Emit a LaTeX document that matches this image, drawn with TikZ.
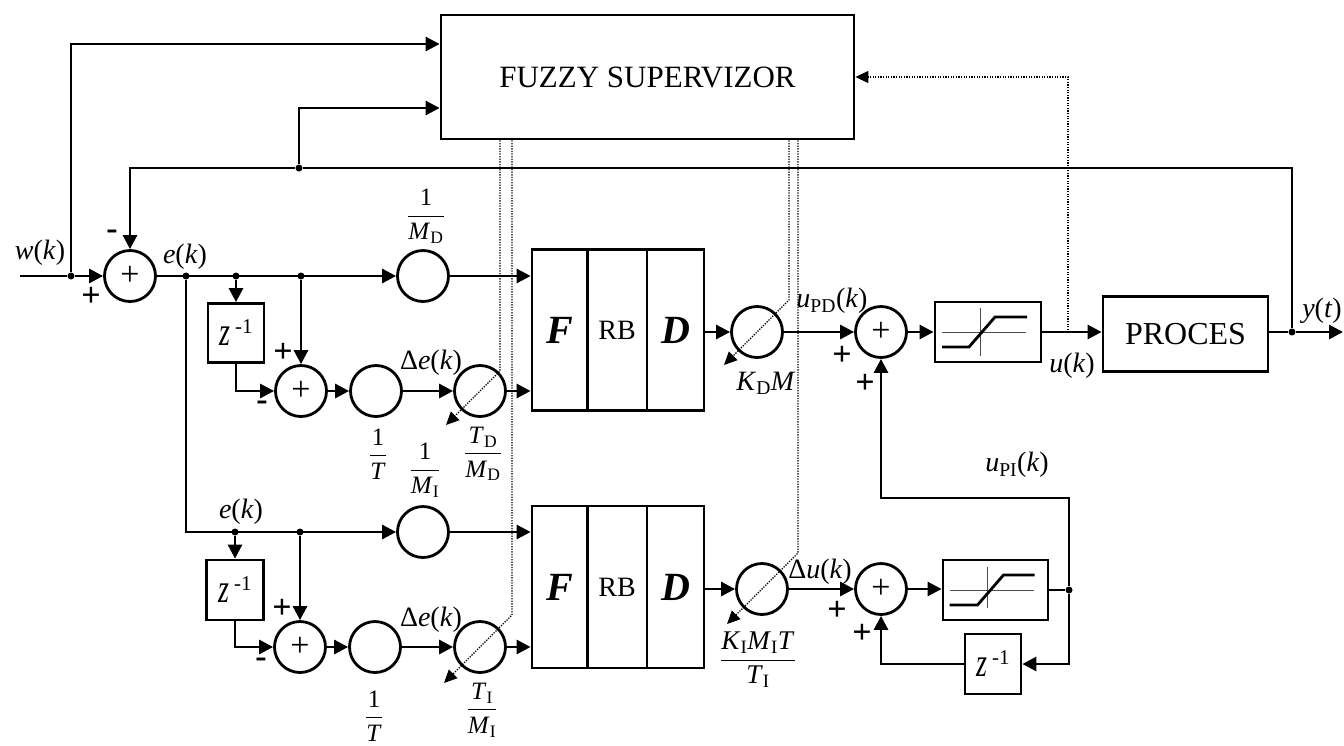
\documentclass[tikz,border=0pt]{standalone}
\usepackage{fontspec}
\setmainfont{Liberation Serif}
\usepackage{amsmath}
\usepackage{graphicx}
\usetikzlibrary{arrows.meta,calc}

\newcommand{\fr}[2]{$\genfrac{}{}{1pt}{0}{\hbox{#1}}{\hbox{#2}}$}
\newcommand{\zinv}{\scalebox{1}[1.45]{\textit{z}}\hspace{5pt}\raisebox{12pt}{\fontsize{21}{21}\selectfont -1}}
\newcommand{\iti}[1]{\textit{#1}}

\tikzset{
  ln/.style={line width=2.8pt},
  arr/.style={ln,-{Triangle[length=14pt,width=14pt]}},
  circ/.style={circle,draw,line width=2.8pt,minimum size=51pt,inner sep=0pt},
  sumc/.style={circ,font=\fontsize{34}{34}\selectfont},
  blk/.style={draw,line width=2.8pt,inner sep=0pt},
  jdot/.style={circle,fill,inner sep=0pt,minimum size=7pt},
  lbl/.style={font=\fontsize{28}{30}\selectfont,inner sep=0pt},
  sgn/.style={font=\fontsize{34}{34}\selectfont\bfseries,inner sep=0pt},
  frc/.style={font=\fontsize{25}{27}\selectfont,inner sep=0pt},
  dotl/.style={line width=1.2pt,dash pattern=on 1.3pt off 1.3pt},
  dotarr/.style={dotl,-{Triangle[length=13pt,width=12pt]}},
  bigl/.style={font=\fontsize{40}{40}\selectfont\bfseries\itshape},
  rbl/.style={font=\fontsize{28}{28}\selectfont},
  satin/.style={line width=0.9pt,gray!60!black},
}

\begin{document}
\begin{tikzpicture}[x=1pt,y=-1pt]
\useasboundingbox (0,0) rectangle (1344,745);

% ---------- Fuzzy supervisor ----------
\node[blk,minimum width=413pt,minimum height=124pt,font=\fontsize{31}{33}\selectfont] (fz) at (647.5,77) {FUZZY SUPERVIZOR};

% ---------- input and first sum ----------
\coordinate (win) at (20,276);
\node[jdot] (jw) at (71,276) {};
\node[sumc] (s1) at (130,276) {+};
\node[lbl] (lw) at (40,253) {\iti{w}(\iti{k})};
\node[sgn] (p1) at (91,297) {+};
\node[sgn] (m1) at (112,235) {-};
\draw[ln] (win) -- (jw);
\draw[arr] (jw) -- (s1);
\draw[arr] (jw) |- (fz.west |- 0,44);

% ---------- feedback ----------
\node[jdot] (jy) at (1292,332) {};
\coordinate (fbr) at (1292,168);
\node[jdot] (jfb) at (299,168) {};
\draw[ln] (jy) -- (fbr) -- (jfb);
\draw[arr] (jfb) -| (s1);
\draw[arr] (jfb) |- (fz.west |- 0,108);

% ---------- upper (PD) branch ----------
\node[lbl] (le1) at (185,257) {\iti{e}(\iti{k})};
\node[jdot] (je1) at (186,276) {};
\node[jdot] (je2) at (236,276) {};
\node[jdot] (je3) at (301,276) {};
\node[circ] (md) at (423,276) {};
\node[frc] (fmd) at (426,216) {\fr{1}{\iti{M}\textsubscript{D}}};
\draw[arr] (s1) -- (md);

\node[blk,minimum width=56pt,minimum height=59pt,font=\fontsize{28}{30}\selectfont] (z1) at (236,333) {\zinv};
\draw[arr] (je2) -- (z1);
\node[sumc] (s2) at (301,391) {+};
\node[sgn] (p2) at (283,353) {+};
\node[sgn] (m2) at (262,406) {-};
\draw[arr] (je3) -- (s2);
\draw[arr] (z1) |- (s2);
\node[circ] (tc1) at (376,391) {};
\node[frc] (ft1) at (378,454) {\fr{1}{\iti{T}}};
\draw[arr] (s2) -- (tc1);
\node[circ] (tdc) at (480,391) {};
\node[lbl] (lde1) at (431,363) {Δ\iti{e}(\iti{k})};
\node[frc] (ftd) at (483,454) {\fr{\iti{T}\textsubscript{D}}{\iti{M}\textsubscript{D}}};
\draw[arr] (tc1) -- (tdc);

\node[blk,minimum width=56pt,minimum height=161pt,bigl] (fa) at (560,330) {F};
\node[blk,minimum width=60pt,minimum height=161pt,rbl] (fb) at (617,330) {RB};
\node[blk,minimum width=57pt,minimum height=161pt,bigl] (fc) at (675.5,330) {D};
\draw[arr] (md) -- (md -| fa.west);
\draw[arr] (tdc) -- (tdc -| fa.west);

\node[circ] (kd) at (757,332) {};
\node[lbl] (lkd) at (766,383) {\iti{K}\textsubscript{D}\iti{M}};
\draw[arr] (fc.east |- kd) -- (kd);
\node[sumc] (s3) at (881,332) {+};
\node[lbl] (lupd) at (832,301) {\iti{u}\textsubscript{PD}(\iti{k})};
\node[sgn] (p3) at (842,356) {+};
\node[sgn] (p4) at (865,384) {+};
\draw[arr] (kd) -- (s3);

\node[blk,minimum width=106pt,minimum height=60pt] (sat1) at (988,332) {};
\begin{scope}[shift={(sat1.center)}]
  \draw[satin] (-46,0) -- (38,0) (-8,-24) -- (-8,24);
  \draw[ln] (-46,15) -- (-19,15) -- (7,-15) -- (39,-15);
\end{scope}
\draw[arr] (s3) -- (sat1);

\node[blk,minimum width=165pt,minimum height=75pt,font=\fontsize{32}{34}\selectfont] (proc) at (1185.5,334) {PROCES};
\node[lbl] (luk) at (1072,366) {\iti{u}(\iti{k})};
\draw[arr] (sat1) -- (sat1 -| proc.west);
\coordinate (yout) at (1343,332);
\draw[ln] (proc.east |- jy) -- (jy);
\draw[arr] (jy) -- (yout);
\node[lbl] (lyt) at (1322,311) {\iti{y}(\iti{t})};

% dotted u(k) to supervisor
\coordinate (uk) at (1068,330);
\draw[dotarr] (uk) |- (fz.east);

% ---------- lower (PI) branch ----------
\node[lbl] (le2) at (241,512) {\iti{e}(\iti{k})};
\node[jdot] (je4) at (235,532) {};
\node[jdot] (je5) at (300,532) {};
\node[circ] (mi) at (423,532) {};
\node[frc] (fmi) at (425,470) {\fr{1}{\iti{M}\textsubscript{I}}};
\draw[arr] (je1) |- (mi);

\node[blk,minimum width=57pt,minimum height=60pt,font=\fontsize{28}{30}\selectfont] (z2) at (235,590) {\zinv};
\draw[arr] (je4) -- (z2);
\node[sumc] (s5) at (300,647) {+};
\node[sgn] (p5) at (282,609) {+};
\node[sgn] (m5) at (261,663) {-};
\draw[arr] (je5) -- (s5);
\draw[arr] (z2) |- (s5);
\node[circ] (tc2) at (375,647) {};
\node[frc] (ft2) at (374,716) {\fr{1}{\iti{T}}};
\draw[arr] (s5) -- (tc2);
\node[circ] (tic) at (480,647) {};
\node[lbl] (lde2) at (431,620) {Δ\iti{e}(\iti{k})};
\node[frc] (fti) at (482,710) {\fr{\iti{T}\textsubscript{I}}{\iti{M}\textsubscript{I}}};
\draw[arr] (tc2) -- (tic);

\node[blk,minimum width=56pt,minimum height=162pt,bigl] (fa2) at (560,587) {F};
\node[blk,minimum width=60pt,minimum height=162pt,rbl] (fb2) at (617,587) {RB};
\node[blk,minimum width=57pt,minimum height=162pt,bigl] (fc2) at (675.5,587) {D};
\draw[arr] (mi) -- (mi -| fa2.west);
\draw[arr] (tic) -- (tic -| fa2.west);

\node[circ] (ki) at (762,589) {};
\node[frc,font=\fontsize{27}{29}\selectfont] (fki) at (758,660) {\fr{\iti{K}\textsubscript{I}\iti{M}\textsubscript{I}\iti{T}}{\iti{T}\textsubscript{I}}};
\draw[arr] (fc2.east |- ki) -- (ki);
\node[sumc] (s4) at (881,589) {+};
\node[lbl] (ldu) at (820,572) {Δ\iti{u}(\iti{k})};
\node[sgn] (p6) at (837,611) {+};
\node[sgn] (p7) at (862,634) {+};
\draw[arr] (ki) -- (s4);

\node[blk,minimum width=105pt,minimum height=60pt] (sat2) at (995.5,590) {};
\begin{scope}[shift={(sat2.center)}]
  \draw[satin] (-46,0) -- (38,0) (-8,-23) -- (-8,18);
  \draw[ln] (-46,15) -- (-18,15) -- (8,-15) -- (39,-15);
\end{scope}
\draw[arr] (s4) -- (s4 -| sat2.west);
\node[jdot] (jpi) at (1069,590) {};
\draw[ln] (sat2) -- (jpi);
\node[blk,minimum width=56pt,minimum height=60pt,font=\fontsize{28}{30}\selectfont] (z3) at (993,664) {\zinv};
\draw[arr] (jpi) |- (z3);
\draw[arr] (z3) -| (s4);
\coordinate (upi) at (1069,498);
\draw[arr] (jpi) -- (upi) -| (s3);
\node[lbl] (lupi) at (1017,465) {\iti{u}\textsubscript{PI}(\iti{k})};

% ---------- dotted gain adjustments ----------
\draw[dotarr] (fz.south -| 500,0) -- ($(tdc)+(20,-20)$) -- ($(tdc)+(-34,34)$);
\draw[dotarr] (fz.south -| 512,0) -- ($(tic)+(32,-32)$) -- ($(tic)+(-36,36)$);
\draw[dotarr] (fz.south -| 789,0) -- ($(kd)+(32,-32)$) -- ($(kd)+(-33,33)$);
\draw[dotarr] (fz.south -| 798,0) -- ($(ki)+(36,-36)$) -- ($(ki)+(-35,35)$);
\end{tikzpicture}
\end{document}
